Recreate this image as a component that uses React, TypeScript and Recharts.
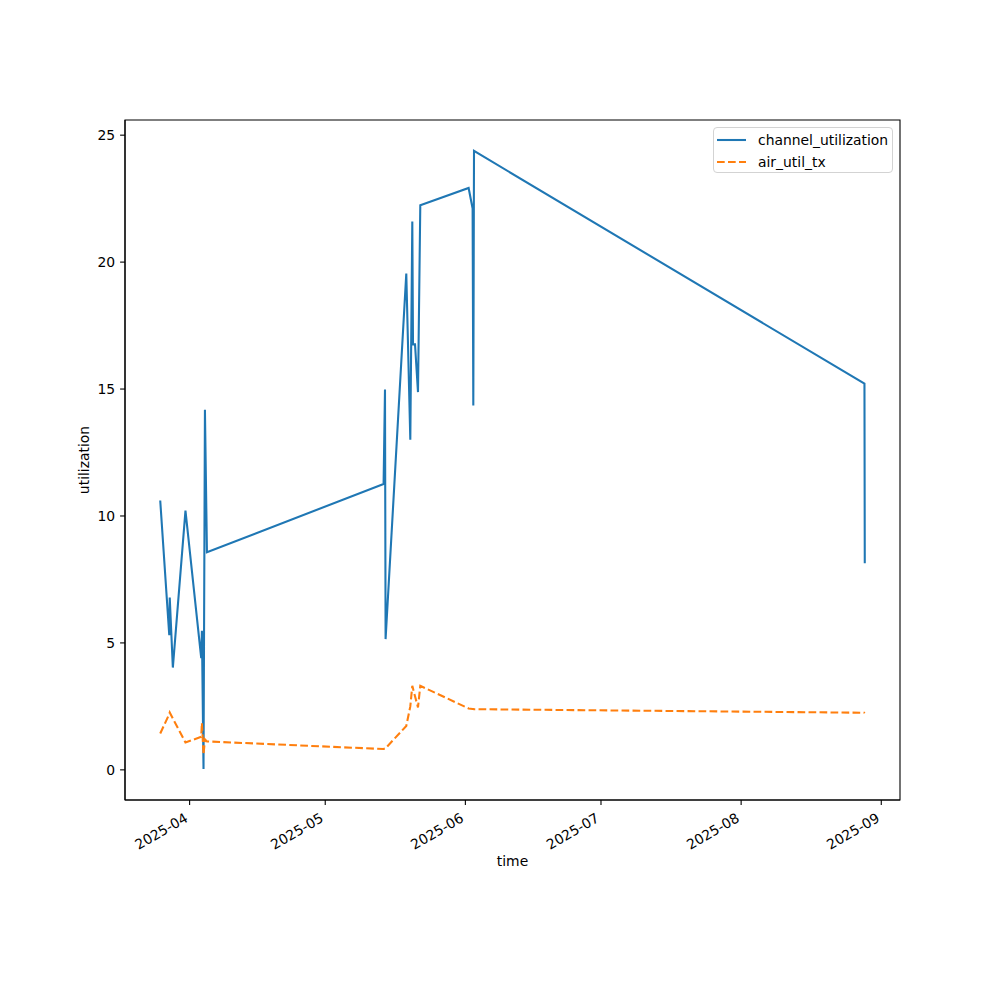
import React from "react";
import { LineChart, Line, XAxis, YAxis, ReferenceArea } from "recharts";

// sample timestamps (UTC)
const times = [
  "2025-03-25T12:00", "2025-03-27T12:00", "2025-03-27T14:30", "2025-03-28T07:00",
  "2025-03-31T02:00", "2025-04-03T13:40", "2025-04-03T17:20", "2025-04-04T01:50",
  "2025-04-04T09:20", "2025-04-04T20:00", "2025-05-13T21:50", "2025-05-14T05:15",
  "2025-05-14T08:25", "2025-05-18T22:20", "2025-05-19T19:40", "2025-05-20T06:15",
  "2025-05-20T10:00", "2025-05-20T20:40", "2025-05-21T12:30", "2025-05-22T00:40",
  "2025-06-01T17:15", "2025-06-02T14:25", "2025-06-02T18:10", "2025-06-02T21:50",
  "2025-08-28T06:45", "2025-08-28T08:25",
];

const channelUtilization = [
  10.61, 5.3, 6.79, 4.03, 10.21, 4.4, 5.48, 0.03, 14.18, 8.57, 11.26, 14.98, 5.15,
  19.55, 13.0, 21.6, 16.76, 16.76, 14.88, 22.24, 22.92, 22.11, 14.35, 24.38, 15.21, 8.14,
];

const airUtilTx = [
  1.43, 2.2, 2.26, 2.02, 1.08, 1.3, 1.85, 0.6, 1.2, 1.12, 0.82, 0.84, 0.85,
  1.73, 2.5, 3.31, 3.2, 2.9, 2.46, 3.31, 2.42, 2.4, 2.4, 2.39, 2.25, 2.24,
];

const monthTicks = ["2025-04", "2025-05", "2025-06", "2025-07", "2025-08", "2025-09"];
const yTicks = [0, 5, 10, 15, 20, 25];

const BLUE = "#1f77b4";
const ORANGE = "#ff7f0e";
const FONT = "DejaVu Sans, sans-serif";
const FS = 13.9;

const data = times.map((t, i) => ({
  t: Date.parse(t + ":00Z"),
  channel_utilization: channelUtilization[i],
  air_util_tx: airUtilTx[i],
}));

// matplotlib-style 5% margins
const tMin = data[0].t;
const tMax = data[data.length - 1].t;
const tPad = (tMax - tMin) * 0.05;
const xDomain = [tMin - tPad, tMax + tPad];
const allY = [...channelUtilization, ...airUtilTx];
const yMin = Math.min(...allY);
const yMax = Math.max(...allY);
const yPad = (yMax - yMin) * 0.05;
const yDomain = [yMin - yPad, yMax + yPad];

const xTicks = monthTicks.map((m) => Date.parse(m + "-01T00:00:00Z"));

const fmtMonth = (v: number) => {
  const d = new Date(v);
  return `${d.getUTCFullYear()}-${String(d.getUTCMonth() + 1).padStart(2, "0")}`;
};

const XTick = (props: any) => {
  const { x, y, payload } = props;
  const ax = x - 6;
  const ay = y + 2;
  return (
    <text
      x={ax}
      y={ay}
      dy="0.76em"
      textAnchor="end"
      transform={`rotate(-30, ${ax}, ${ay})`}
      fontFamily={FONT}
      fontSize={FS}
      fill="#000"
    >
      {fmtMonth(payload.value)}
    </text>
  );
};

const legendItems = [
  { name: "channel_utilization", color: BLUE, dash: undefined as string | undefined },
  { name: "air_util_tx", color: ORANGE, dash: "7.7 3.3" },
];

const ChartLegend = () => (
  <div
    style={{
      position: "absolute",
      left: 713,
      top: 127,
      boxSizing: "border-box",
      width: 180,
      height: 46,
      border: "1px solid #d3d3d3",
      borderRadius: 4,
      background: "#fff",
      padding: "1px 0 0 3px",
      fontFamily: FONT,
      fontSize: FS,
      color: "#000",
    }}
  >
    {legendItems.map((it) => (
      <div key={it.name} style={{ display: "flex", alignItems: "center", height: 21.7 }}>
        <svg width={30} height={10} style={{ marginRight: 11 }}>
          <line x1={0} y1={5} x2={29} y2={5} stroke={it.color} strokeWidth={2.08} strokeDasharray={it.dash} />
        </svg>
        <span style={{ whiteSpace: "nowrap" }}>{it.name}</span>
      </div>
    ))}
  </div>
);

export default function App() {
  return (
    <div style={{ position: "relative", width: 1000, height: 1000, background: "#fff" }}>
      <style>{`body{margin:0;background:#fff}`}</style>
      <LineChart width={1000} height={1000} data={data} margin={{ top: 120, right: 100, bottom: 100, left: 65 }}>
        <XAxis
          dataKey="t"
          type="number"
          domain={xDomain}
          allowDataOverflow
          ticks={xTicks}
          tick={<XTick />}
          tickSize={4.9}
          tickMargin={4.9}
          height={100}
          stroke="#000"
          axisLine={{ stroke: "#000", strokeWidth: 1.1 }}
          tickLine={{ stroke: "#000", strokeWidth: 1.1 }}
          label={{
            content: (p: any) => (
              <text x={512.5} y={p.viewBox.y + 62} textAnchor="middle" dominantBaseline="middle" fontFamily={FONT} fontSize={FS} fill="#000">
                time
              </text>
            ),
          }}
        />
        <YAxis
          type="number"
          domain={yDomain}
          allowDataOverflow
          ticks={yTicks}
          width={60}
          tickSize={4.9}
          tickMargin={4.9}
          tick={{ fontFamily: FONT, fontSize: FS, fill: "#000" }}
          axisLine={{ stroke: "#000", strokeWidth: 1.1 }}
          tickLine={{ stroke: "#000", strokeWidth: 1.1 }}
          label={{
            content: (p: any) => {
              const cx = 85;
              const cy = p.viewBox.y + p.viewBox.height / 2;
              return (
                <text x={cx} y={cy} transform={`rotate(-90, ${cx}, ${cy})`} textAnchor="middle" dominantBaseline="middle" fontFamily={FONT} fontSize={FS} fill="#000">
                  utilization
                </text>
              );
            },
          }}
        />
        <Line
          type="linear"
          dataKey="channel_utilization"
          stroke={BLUE}
          strokeWidth={2.08}
          dot={false}
          activeDot={false}
          isAnimationActive={false}
        />
        <Line
          type="linear"
          dataKey="air_util_tx"
          stroke={ORANGE}
          strokeWidth={2.08}
          strokeDasharray="7.7 3.3"
          dot={false}
          activeDot={false}
          isAnimationActive={false}
        />
        <ReferenceArea
          x1={xDomain[0]}
          x2={xDomain[1]}
          y1={yDomain[0]}
          y2={yDomain[1]}
          fill="none"
          stroke="#000"
          strokeWidth={1.1}
        />
      </LineChart>
      <ChartLegend />
    </div>
  );
}
